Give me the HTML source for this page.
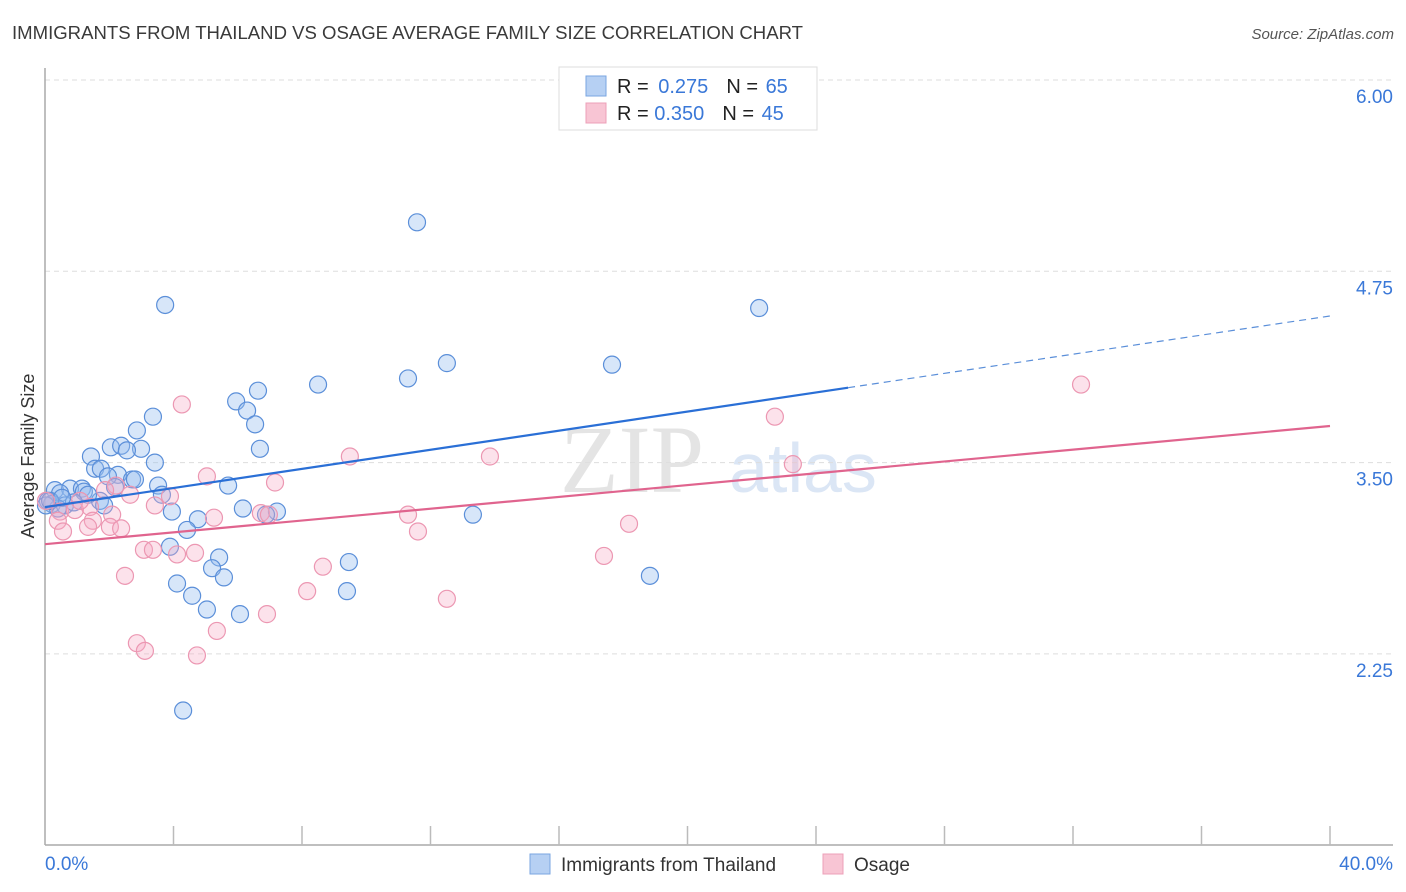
<!DOCTYPE html>
<html><head><meta charset="utf-8"><style>
body{margin:0;background:#fff;font-family:"Liberation Sans",sans-serif;}
#wrap{position:relative;width:1406px;height:892px;overflow:hidden;}
</style></head><body>
<div id="wrap">
<svg id="svg" width="1406" height="892" xmlns="http://www.w3.org/2000/svg">
<text x="12" y="39" font-size="18" textLength="791" lengthAdjust="spacingAndGlyphs" fill="#3a3a3a">IMMIGRANTS FROM THAILAND VS OSAGE AVERAGE FAMILY SIZE CORRELATION CHART</text>
<text x="1394" y="39" font-size="15" fill="#555" font-style="italic" text-anchor="end">Source: ZipAtlas.com</text>
<text x="632" y="492" font-size="96" fill="#e4e4e4" font-family="Liberation Serif,serif" text-anchor="middle">ZIP</text>
<text x="803" y="492" font-size="70" fill="#dbe6f5" text-anchor="middle">atlas</text>
<g id="grid"></g>
<g id="axes"></g>
<g id="pts"></g>
<g id="lines"></g>
<text transform="translate(34,456) rotate(-90)" font-size="18" fill="#333" text-anchor="middle">Average Family Size</text>
<g>
<rect x="559" y="67" width="258" height="63" fill="#fff" stroke="#ddd"/>
<rect x="586" y="76" width="20" height="20" fill="#b6d0f3" stroke="#7aa6e0"/>
<rect x="586" y="103" width="20" height="20" fill="#f8c5d4" stroke="#eda0b8"/>
<text x="617" y="93" font-size="20" fill="#222">R = <tspan fill="#3a78d8" dx="4">0.275</tspan><tspan dx="18" fill="#222">N = </tspan><tspan fill="#3a78d8" dx="2">65</tspan></text>
<text x="617" y="120" font-size="20" fill="#222">R = <tspan fill="#3a78d8">0.350</tspan><tspan dx="18" fill="#222">N = </tspan><tspan fill="#3a78d8" dx="2">45</tspan></text>
</g>
<rect x="530" y="854" width="20" height="20" fill="#b6d0f3" stroke="#7aa6e0"/>
<text x="561" y="871" font-size="19" fill="#333">Immigrants from Thailand</text>
<rect x="823" y="854" width="20" height="20" fill="#f8c5d4" stroke="#eda0b8"/>
<text x="854" y="871" font-size="19" fill="#333">Osage</text>
</svg>
</div>
<script>
const yTicks=[6.00,4.75,3.50,2.25];
const yTickLabels=["6.00","4.75","3.50","2.25"];
const xTickLabels=["0.0%","40.0%"];
const blueX=[11.58,3.74,22.23,12.51,17.65,11.30,8.50,6.63,5.95,6.29,3.36,6.54,2.86,2.05,2.37,2.99,2.55,6.69,1.43,3.42,1.56,1.74,2.27,1.96,2.71,2.80,3.52,5.70,2.18,0.31,0.78,1.15,0.47,1.21,1.71,3.64,1.34,0.09,0.22,0.62,0.90,1.84,0.40,6.16,7.22,3.95,6.88,13.32,4.76,4.42,3.89,9.46,5.42,5.20,5.57,18.83,4.11,4.58,9.40,5.04,6.07,4.30,0.03,0.16,0.53];
const blueY=[5.07,4.53,4.51,4.15,4.14,4.05,4.01,3.97,3.90,3.84,3.80,3.75,3.71,3.60,3.61,3.59,3.58,3.59,3.54,3.50,3.46,3.46,3.42,3.41,3.39,3.39,3.35,3.35,3.34,3.32,3.33,3.33,3.30,3.31,3.25,3.29,3.29,3.25,3.23,3.22,3.24,3.22,3.20,3.20,3.18,3.18,3.16,3.16,3.13,3.06,2.95,2.85,2.88,2.81,2.75,2.76,2.71,2.63,2.66,2.54,2.51,1.88,3.22,3.25,3.27];
const pinkX=[32.25,4.26,22.72,9.49,13.85,23.28,5.04,7.16,2.21,2.65,3.89,1.87,3.42,5.26,11.30,0.47,0.93,1.40,2.09,0.40,1.49,6.72,6.97,18.18,2.02,2.37,1.34,0.56,11.61,3.08,3.36,4.67,4.11,17.40,8.65,2.49,8.16,12.51,5.35,6.91,2.86,3.11,4.73,0.03,1.09];
const pinkY=[4.01,3.88,3.80,3.54,3.54,3.49,3.41,3.37,3.35,3.29,3.28,3.32,3.22,3.14,3.16,3.18,3.19,3.21,3.16,3.12,3.12,3.17,3.16,3.10,3.08,3.07,3.08,3.05,3.05,2.93,2.93,2.91,2.90,2.89,2.82,2.76,2.66,2.61,2.40,2.51,2.32,2.27,2.24,3.25,3.25];
const blueFit=[3.209,4.458];
const pinkFit=[2.967,3.739];
const NS="http://www.w3.org/2000/svg";
const sx=v=>45+v/40*1285;
const sy=v=>80+(6-v)*153.04;
function mk(tag,attrs,parent){const e=document.createElementNS(NS,tag);for(const k in attrs)e.setAttribute(k,attrs[k]);document.getElementById(parent).appendChild(e);return e;}
yTicks.forEach((t,i)=>{
 const g=mk('line',{x1:45,x2:1393,y1:sy(t),y2:sy(t),stroke:'#ddd','stroke-dasharray':'5,4'},'grid');
 
 
 const l=mk('text',{x:1393,y:sy(t)+23,'font-size':19,fill:'#3a78d8','text-anchor':'end'},'grid');
 l.textContent=yTickLabels[i];
 
 
});
let a=mk('line',{x1:45,x2:45,y1:68,y2:845,stroke:'#aaa','stroke-width':1.5},'axes');


a=mk('line',{x1:45,x2:1393,y1:845,y2:845,stroke:'#aaa','stroke-width':1.5},'axes');


for(let i=1;i<=10;i++){
 const t=mk('line',{x1:sx(i*4),x2:sx(i*4),y1:826,y2:845,stroke:'#bbb','stroke-width':1.5},'axes');
 
 
}
[[0,'start'],[40,'end']].forEach((p,i)=>{
 const l=mk('text',{x:i?1393:45,y:870,'font-size':19,fill:'#3a78d8','text-anchor':p[1]},'axes');
 l.textContent=xTickLabels[i];
 
 
});
blueX.forEach((x,i)=>{
 const c=mk('circle',{cx:sx(x),cy:sy(blueY[i]),r:8.5,fill:'rgba(150,190,240,0.38)',stroke:'#5b8fd9','stroke-width':1.2},'pts');
 
 
});
pinkX.forEach((x,i)=>{
 const c=mk('circle',{cx:sx(x),cy:sy(pinkY[i]),r:8.5,fill:'rgba(245,170,195,0.34)',stroke:'#ec97b2','stroke-width':1.2},'pts');
 
 
});
const bAt=x=>blueFit[0]+(blueFit[1]-blueFit[0])*x/40;
let ln=mk('line',{x1:sx(0),y1:sy(bAt(0)),x2:sx(25),y2:sy(bAt(25)),stroke:'#2a6fd6','stroke-width':2.2},'lines');


ln=mk('line',{x1:sx(25),y1:sy(bAt(25)),x2:sx(40),y2:sy(bAt(40)),stroke:'#5b8fd9','stroke-width':1.2,'stroke-dasharray':'7,5'},'lines');


ln=mk('line',{x1:sx(0),y1:sy(pinkFit[0]),x2:sx(40),y2:sy(pinkFit[1]),stroke:'#e0648e','stroke-width':2.2},'lines');


</script>
</body></html>
